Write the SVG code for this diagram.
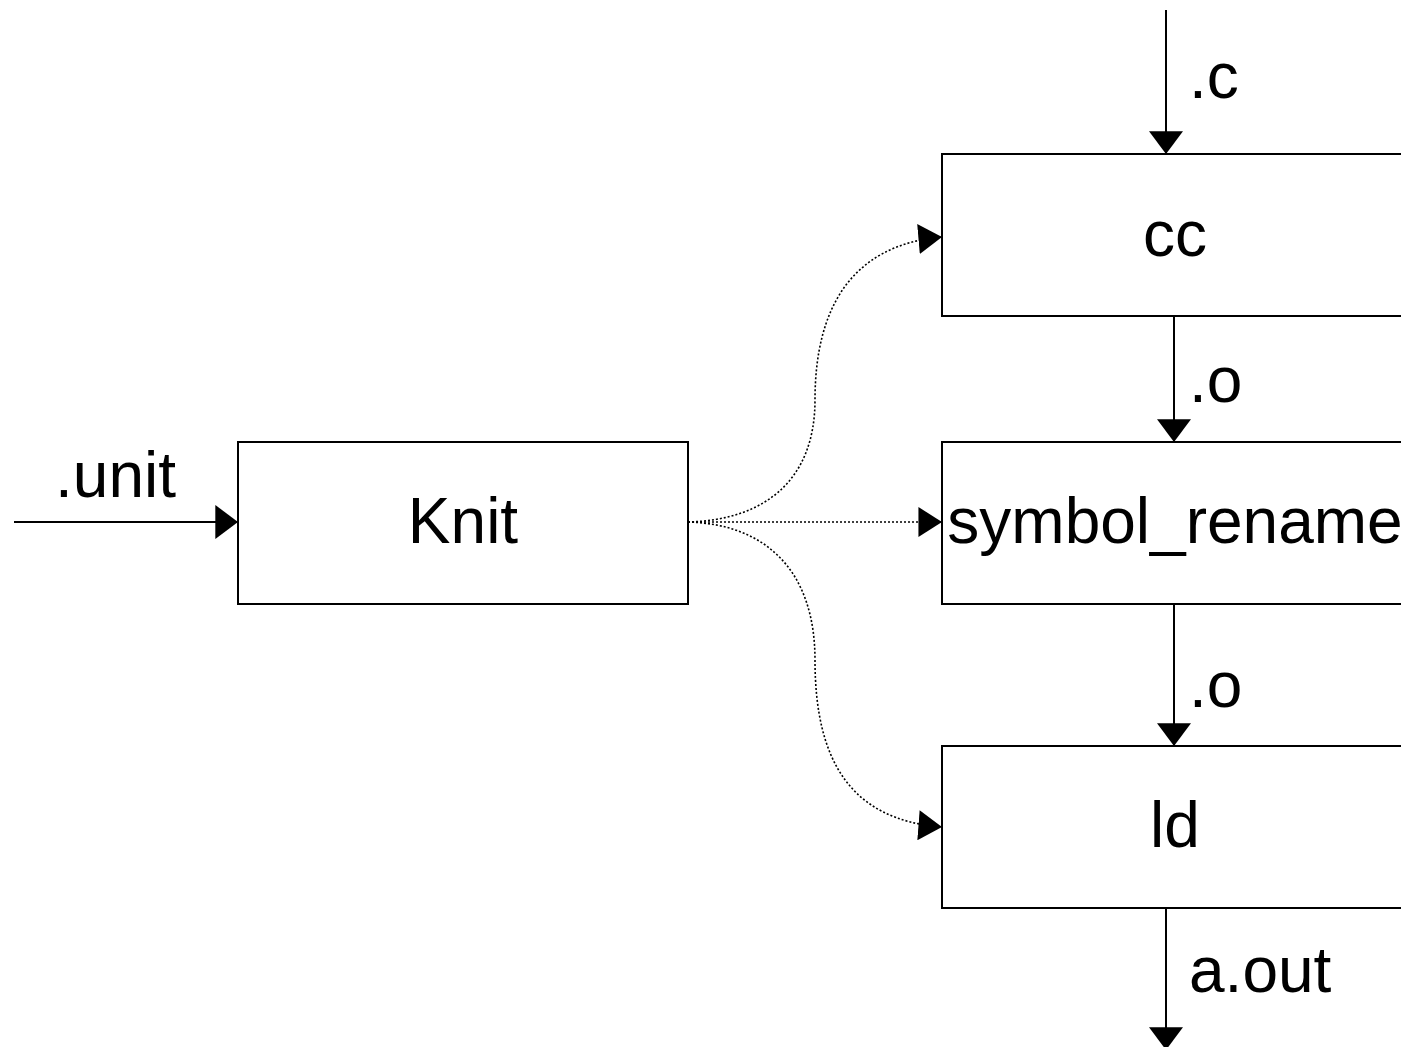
<svg xmlns="http://www.w3.org/2000/svg" width="1401" height="1047" viewBox="0 0 1401 1047">
<defs>
<style>
.box{fill:#fff;stroke:#000;stroke-width:2}
.name{font-family:"Liberation Sans",Arial,sans-serif;font-size:64px;fill:#000;text-anchor:middle}
.lbl{font-family:"Liberation Sans",Arial,sans-serif;font-size:64px;fill:#000}
.solid{fill:none;stroke:#000;stroke-width:2}
.dot{fill:none;stroke:#000;stroke-width:1.6;stroke-dasharray:2 2}
</style>
<marker id="ah" markerUnits="userSpaceOnUse" markerWidth="24" markerHeight="34" viewBox="0 0 22 33" refX="22" refY="16.5" orient="auto">
<path d="M0,0 L22,16.5 L0,33 Z" fill="#000"/>
</marker>
<marker id="ahd" markerUnits="userSpaceOnUse" markerWidth="24" markerHeight="30" viewBox="0 0 22 28" refX="22" refY="14" orient="auto">
<path d="M0,0 L22,14 L0,28 Z" fill="#000"/>
</marker>
</defs>
<g id="connectors">
<line class="solid" x1="14" y1="522" x2="238" y2="522" marker-end="url(#ah)"/>
<line class="solid" x1="1166" y1="10" x2="1166" y2="154" marker-end="url(#ah)"/>
<line class="solid" x1="1174" y1="316" x2="1174" y2="442" marker-end="url(#ah)"/>
<line class="solid" x1="1174" y1="604" x2="1174" y2="746" marker-end="url(#ah)"/>
<line class="solid" x1="1166" y1="908" x2="1166" y2="1050" marker-end="url(#ah)"/>
<path class="dot" d="M688,522 C765,520 815,480 815,400 C815,310 850,245 942,237" marker-end="url(#ahd)"/>
<line class="dot" x1="688" y1="522" x2="942" y2="522" marker-end="url(#ahd)"/>
<path class="dot" d="M688,522 C765,524 815,570 815,660 C815,760 850,820 942,827" marker-end="url(#ahd)"/>
<text class="lbl" x="55" y="497">.unit</text>
<text class="lbl" x="1189" y="98">.c</text>
<text class="lbl" x="1189" y="402">.o</text>
<text class="lbl" x="1189" y="707">.o</text>
<text class="lbl" x="1189" y="992">a.out</text>
</g>
<g id="knit">
<rect class="box" x="238" y="442" width="450" height="162"/>
<text class="name" x="463" y="543">Knit</text>
</g>
<g id="cc">
<rect class="box" x="942" y="154" width="470" height="162"/>
<text class="name" x="1175" y="256">cc</text>
</g>
<g id="symbol_rename">
<rect class="box" x="942" y="442" width="470" height="162"/>
<text class="name" x="1175" y="543">symbol_rename</text>
</g>
<g id="ld">
<rect class="box" x="942" y="746" width="470" height="162"/>
<text class="name" x="1175" y="847">ld</text>
</g>
</svg>
